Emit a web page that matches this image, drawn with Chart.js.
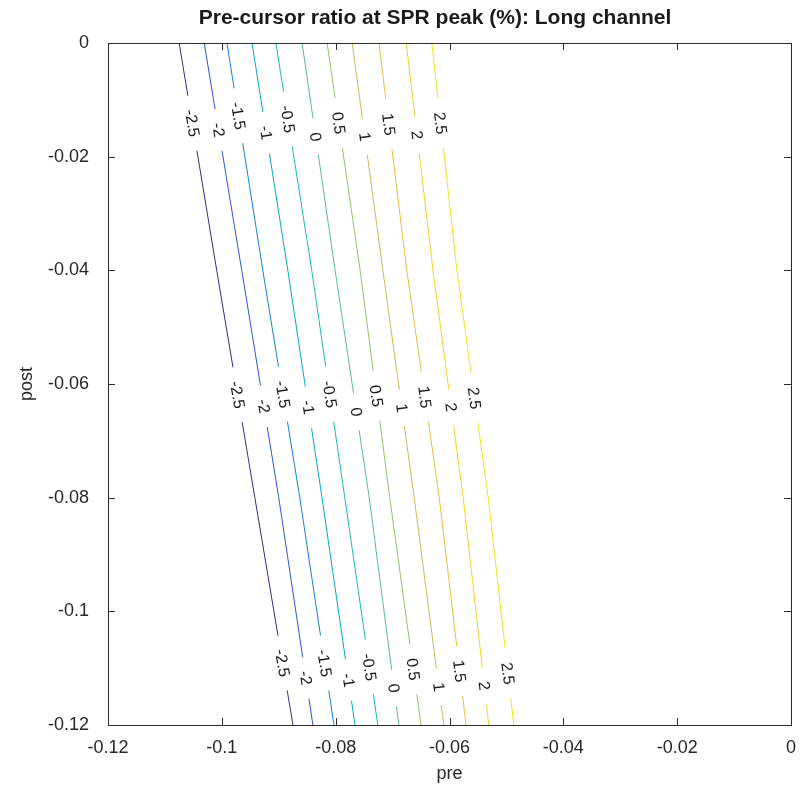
<!DOCTYPE html>
<html lang="en">
<head>
  <meta charset="UTF-8">
  <title>Pre-cursor ratio at SPR peak</title>
  <style>
    html, body { margin: 0; padding: 0; background: #fff; }
    #chart { display: block; }
  </style>
</head>
<body>
  <canvas id="chart" width="800" height="796"></canvas>

  <script src="https://cdn.jsdelivr.net/npm/chart.js"></script>
  <script>
    // contour levels (%) and where each level crosses a few 'post' rows
    const levels = [-2.5, -2, -1.5, -1, -0.5, 0, 0.5, 1, 1.5, 2, 2.5];
    const postRows = [0, -0.04, -0.08, -0.12];
    const preAtPost0 = [-0.1075, -0.1031, -0.0991, -0.0947, -0.0905, -0.0859, -0.0815, -0.0771, -0.0724, -0.0676, -0.0631];
    const preAtPost004 = [-0.1009, -0.0965, -0.0928, -0.0884, -0.0842, -0.0801, -0.0757, -0.0717, -0.0675, -0.0629, -0.0587];
    const preAtPost008 = [-0.0942, -0.0900, -0.0863, -0.0824, -0.0784, -0.0741, -0.0705, -0.0662, -0.0618, -0.0576, -0.0532];
    const preAtPost012 = [-0.0875, -0.0840, -0.0803, -0.0766, -0.0726, -0.0689, -0.0650, -0.0610, -0.0571, -0.0531, -0.0487];

    // 'post' value where each in-line label sits, three rows of labels
    const labelPostTop = [-0.0141, -0.0153, -0.0128, -0.0158, -0.0134, -0.0165, -0.0141, -0.0165, -0.0143, -0.0162, -0.0141];
    const labelPostMid = [-0.0619, -0.0639, -0.0618, -0.0641, -0.0618, -0.0649, -0.0621, -0.0642, -0.0623, -0.0641, -0.0625];
    const labelPostBot = [-0.1091, -0.1117, -0.1091, -0.1121, -0.1098, -0.1135, -0.1102, -0.1133, -0.1105, -0.1131, -0.1109];

    const axisTicks = [-0.12, -0.1, -0.08, -0.06, -0.04, -0.02, 0];

    // parula-like colours, low to high
    const levelColors = ['#352a87', '#2d55cf', '#1580d5', '#08a2cc', '#22b4ad', '#5abb8c', '#98be6e', '#c7bb5a', '#eab943', '#f8cf2c', '#eee21e'];

    const preRows = [preAtPost0, preAtPost004, preAtPost008, preAtPost012];

    const datasets = levels.map((lv, i) => ({
      label: String(lv),
      data: postRows.map((p, r) => ({ x: preRows[r][i], y: p })),
      showLine: true,
      borderColor: levelColors[i],
      borderWidth: 1,
      pointRadius: 0,
      tension: 0
    }));

    const fmt = v => String(+Number(v).toFixed(2));

    // pre value on a contour at a given post (linear between rows)
    function preOnLine(i, post) {
      for (let r = 0; r < postRows.length - 1; r++) {
        const a = postRows[r], b = postRows[r + 1];
        if (post <= a && post >= b) {
          const t = (post - a) / (b - a);
          return preRows[r][i] + t * (preRows[r + 1][i] - preRows[r][i]);
        }
      }
      return preRows[0][i];
    }

    const contourLabels = {
      id: 'contourLabels',
      afterDatasetsDraw(chart) {
        const { ctx, scales: { x, y } } = chart;
        ctx.save();
        ctx.font = '16px "Liberation Sans", Arial, sans-serif';
        ctx.textAlign = 'center';
        ctx.textBaseline = 'middle';
        [labelPostTop, labelPostMid, labelPostBot].forEach(row => {
          row.forEach((post, i) => {
            const px = x.getPixelForValue(preOnLine(i, post));
            const py = y.getPixelForValue(post);
            const dx = x.getPixelForValue(preRows[3][i]) - x.getPixelForValue(preRows[0][i]);
            const dy = y.getPixelForValue(postRows[3]) - y.getPixelForValue(postRows[0]);
            const ang = Math.atan2(dy, dx);
            const txt = fmt(levels[i]);
            const w = ctx.measureText(txt).width;
            const gap = w + 28;
            ctx.save();
            ctx.translate(px, py);
            ctx.rotate(ang);
            ctx.fillStyle = '#fff';
            ctx.fillRect(-gap / 2, -7, gap, 14);
            ctx.fillStyle = '#1a1a1a';
            ctx.fillText(txt, 0, 1);
            ctx.restore();
          });
        });
        ctx.restore();
      }
    };

    // box around the axes with inward tick marks on every side
    const boxTicks = {
      id: 'boxTicks',
      afterDraw(chart) {
        const { ctx, chartArea: a, scales: { x, y } } = chart;
        const len = 7;
        ctx.save();
        ctx.strokeStyle = '#2b2b2b';
        ctx.lineWidth = 1;
        ctx.beginPath();
        axisTicks.forEach(v => {
          const px = Math.round(x.getPixelForValue(v)) + 0.5;
          ctx.moveTo(px, a.bottom); ctx.lineTo(px, a.bottom - len);
          ctx.moveTo(px, a.top); ctx.lineTo(px, a.top + len);
          const py = Math.round(y.getPixelForValue(v)) + 0.5;
          ctx.moveTo(a.left, py); ctx.lineTo(a.left + len, py);
          ctx.moveTo(a.right, py); ctx.lineTo(a.right - len, py);
        });
        ctx.stroke();
        ctx.strokeRect(Math.round(a.left) + 0.5, Math.round(a.top) + 0.5,
          Math.round(a.right - a.left), Math.round(a.bottom - a.top));

        ctx.fillStyle = '#1a1a1a';
        ctx.font = 'bold 21px "Liberation Sans", Arial, sans-serif';
        ctx.textAlign = 'center';
        ctx.textBaseline = 'middle';
        ctx.fillText('Pre-cursor ratio at SPR peak (%): Long channel', 435, 18);
        ctx.restore();
      }
    };

    const tickFont = { family: '"Liberation Sans", Arial, sans-serif', size: 18 };

    new Chart(document.getElementById('chart'), {
      type: 'scatter',
      data: { datasets },
      options: {
        responsive: false,
        animation: false,
        layout: { padding: { top: 43, right: 9, left: 0, bottom: 0 } },
        plugins: { legend: { display: false }, tooltip: { enabled: false } },
        scales: {
          x: {
            type: 'linear',
            min: -0.12,
            max: 0,
            afterFit(scale) {
              scale.height = 71;
              scale.paddingLeft = 0;
              scale.paddingRight = 0;
            },
            afterBuildTicks(scale) { scale.ticks = axisTicks.map(v => ({ value: v })); },
            ticks: { callback: v => fmt(v), font: tickFont, color: '#262626', padding: 12, maxRotation: 0 },
            grid: { drawOnChartArea: false, drawTicks: false },
            border: { display: false },
            title: { display: true, text: 'pre', font: tickFont, color: '#262626', padding: { top: 0, bottom: 11 } }
          },
          y: {
            type: 'linear',
            min: -0.12,
            max: 0,
            afterFit(scale) {
              scale.width = 108;
              scale.paddingTop = 0;
              scale.paddingBottom = 0;
            },
            afterBuildTicks(scale) { scale.ticks = axisTicks.map(v => ({ value: v })); },
            ticks: { callback: v => fmt(v), font: tickFont, color: '#262626', padding: 19 },
            grid: { drawOnChartArea: false, drawTicks: false },
            border: { display: false },
            title: { display: true, text: 'post', font: tickFont, color: '#262626', padding: { top: 16, bottom: 0 } }
          }
        }
      },
      plugins: [contourLabels, boxTicks]
    });
  </script>
</body>
</html>
